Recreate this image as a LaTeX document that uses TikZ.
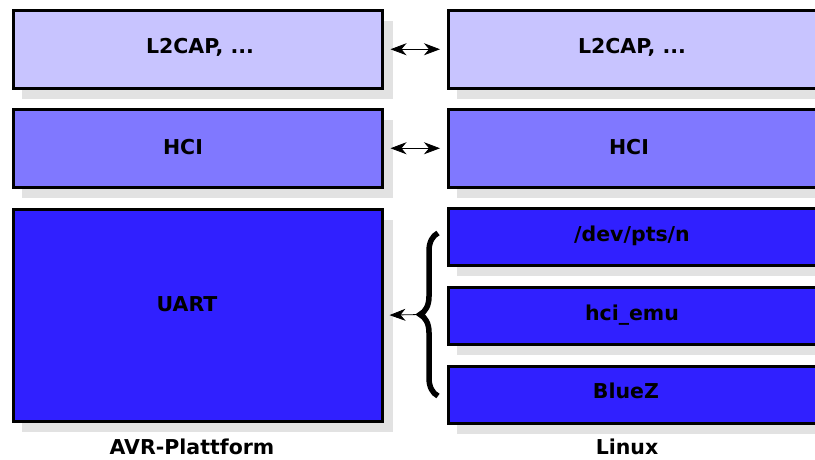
\documentclass[tikz,border=0pt]{standalone}
\usepackage{fontspec}
\setmainfont{DejaVu Sans}
\usetikzlibrary{decorations.pathreplacing,arrows.meta}
\definecolor{cl}{RGB}{200,196,255}
\definecolor{ch}{RGB}{128,120,255}
\definecolor{cu}{RGB}{48,32,255}
\definecolor{sh}{RGB}{226,226,226}
\tikzset{
  layer/.style={draw=black, line width=2.5pt, inner sep=0pt, anchor=north west},
  lab/.style={font=\bfseries\fontsize{20.5}{24}\selectfont, inner sep=0pt},
  link/.style={{Stealth[length=16pt,width=12pt,inset=5pt]}-{Stealth[length=16pt,width=12pt,inset=5pt]}, line width=0.8pt, shorten <=7pt, shorten >=7pt},
  link1/.style={-{Stealth[length=16pt,width=12pt,inset=5pt]}, line width=0.8pt, shorten >=6pt},
  bracestyle/.style={decorate, decoration={brace, amplitude=18pt}, line width=5.5pt}
}
\begin{document}
\begin{tikzpicture}[x=1pt,y=-1pt]
\useasboundingbox (0,0) rectangle (815,459);
% shadows
\foreach \a/\b/\c/\d in {12/9/381/87, 12/108/381/186, 12/208/381/420, 447/9/830/87, 447/108/830/186, 447/207/830/264, 447/286/830/343, 447/365/830/422}
  \fill[sh] (\a+10,\b+12) rectangle (\c+12,\d+12);
% boxes
\node[layer, fill=cl, minimum width=369pt, minimum height=78pt] (l2l) at (12,9) {};
\node[layer, fill=ch, minimum width=369pt, minimum height=78pt] (hcil) at (12,108) {};
\node[layer, fill=cu, minimum width=369pt, minimum height=212pt] (uart) at (12,208) {};
\node[layer, fill=cl, minimum width=383pt, minimum height=78pt] (l2r) at (447,9) {};
\node[layer, fill=ch, minimum width=383pt, minimum height=78pt] (hcir) at (447,108) {};
\node[layer, fill=cu, minimum width=383pt, minimum height=57pt] (pts) at (447,207) {};
\node[layer, fill=cu, minimum width=383pt, minimum height=57pt] (emu) at (447,286) {};
\node[layer, fill=cu, minimum width=383pt, minimum height=57pt] (bluez) at (447,365) {};
% labels
\node[lab] (tl2l) at (200,47) {L2CAP, ...};
\node[lab] (thcil) at (183,147) {HCI};
\node[lab] (tuart) at (187,304) {UART};
\node[lab] (tl2r) at (632,47) {L2CAP, ...};
\node[lab] (thcir) at (629,147) {HCI};
\node[lab] (tpts) at (632,236) {/dev/pts/n};
\node[lab] (temu) at (632,315) {hci\_emu};
\node[lab] (tbluez) at (626,391) {BlueZ};
\node[lab] (avr) at (192,447) {AVR-Plattform};
\node[lab] (linux) at (627,447) {Linux};
% connectors
\draw[link] (l2l.east) -- (l2r.west);
\draw[link] (hcil.east) -- (hcir.west);
\draw[bracestyle] (438,396) -- node[midway, left=18pt, inner sep=0pt, coordinate] (tip) {} (438,233);
\draw[link1] (tip) -- (uart.east);
\end{tikzpicture}
\end{document}
